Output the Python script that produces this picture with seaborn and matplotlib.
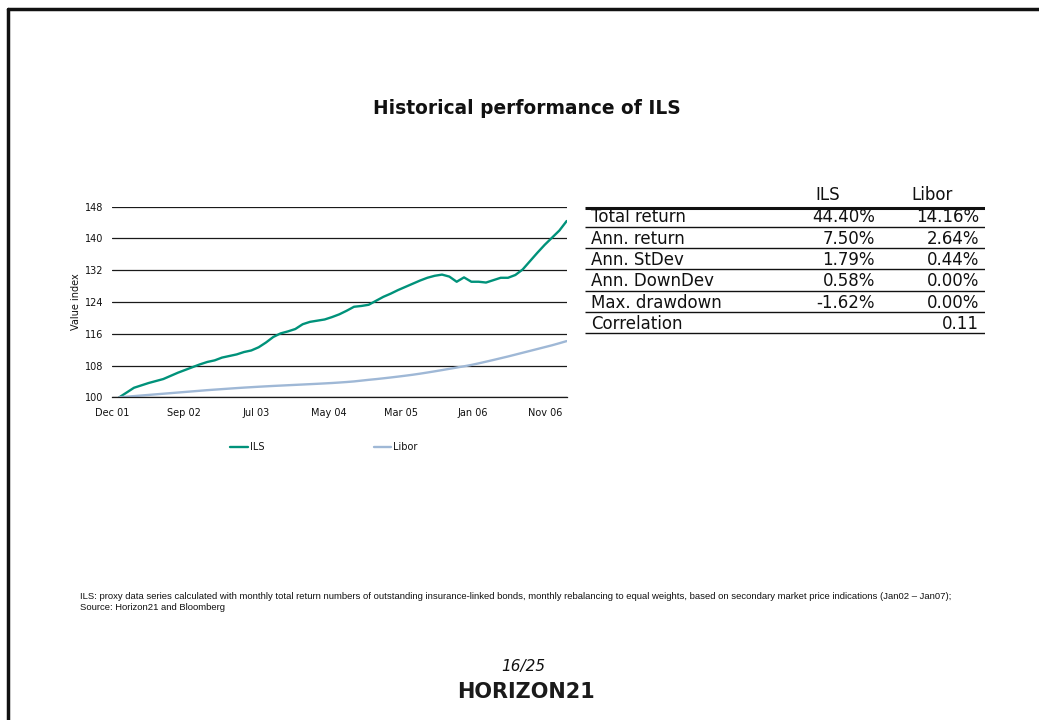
"""
plot.py
Historical performance of ILS vs Libor (value index) with summary stats table.
"""

import matplotlib
matplotlib.use("Agg")
import matplotlib.pyplot as plt
from matplotlib.lines import Line2D
import seaborn as sns
import pandas as pd
import numpy as np

W, H = 1039, 720

# --- data ----------------------------------------------------------------
ils_values = [
    100.0, 101.2, 102.4, 103.0, 103.6, 104.1, 104.6, 105.4, 106.2, 106.9,
    107.6, 108.3, 108.9, 109.3, 110.0, 110.4, 110.8, 111.4, 111.8, 112.6,
    113.8, 115.2, 116.1, 116.6, 117.2, 118.4, 119.0, 119.3, 119.6, 120.2,
    120.9, 121.8, 122.8, 123.0, 123.3, 124.3, 125.3, 126.1, 127.0, 127.8,
    128.6, 129.4, 130.1, 130.6, 130.9, 130.4, 129.1, 130.2, 129.1, 129.1,
    128.9, 129.5, 130.1, 130.1, 130.8, 132.2, 134.3, 136.4, 138.4, 140.2,
    142.0, 144.4,
]
libor_values = [
    100.00, 100.15, 100.30, 100.45, 100.60, 100.75, 100.90, 101.05, 101.20, 101.35,
    101.50, 101.65, 101.80, 101.93, 102.06, 102.19, 102.32, 102.44, 102.55, 102.66,
    102.76, 102.86, 102.95, 103.04, 103.13, 103.22, 103.31, 103.40, 103.50, 103.60,
    103.72, 103.85, 104.00, 104.20, 104.40, 104.58, 104.78, 104.99, 105.21, 105.44,
    105.68, 105.95, 106.24, 106.54, 106.85, 107.17, 107.49, 107.81, 108.15, 108.55,
    108.97, 109.40, 109.84, 110.28, 110.75, 111.22, 111.69, 112.16, 112.63, 113.10,
    113.62, 114.16,
]
series_names = ["ILS", "Libor"]
series_colors = ["#00927a", "#9fb8d6"]
x_tick_labels = ["Dec 01", "Sep 02", "Jul 03", "May 04", "Mar 05", "Jan 06", "Nov 06"]
y_ticks = [100, 108, 116, 124, 132, 140, 148]

table_rows = ["Total return", "Ann. return", "Ann. StDev", "Ann. DownDev",
              "Max. drawdown", "Correlation"]
table_ils = ["44.40%", "7.50%", "1.79%", "0.58%", "-1.62%", ""]
table_libor = ["14.16%", "2.64%", "0.44%", "0.00%", "0.00%", "0.11"]

footnote = ("ILS: proxy data series calculated with monthly total return numbers of "
            "outstanding insurance-linked bonds, monthly rebalancing to equal weights, "
            "based on secondary market price indications (Jan02 \u2013 Jan07);\n"
            "Source: Horizon21 and Bloomberg")


def build_frame():
    n = len(ils_values)
    df = pd.DataFrame({
        "month": list(range(n)) * 2,
        "value": ils_values + libor_values,
        "series": [series_names[0]] * n + [series_names[1]] * n,
    })
    return df


def draw_chart(fig, df):
    left, right, top, bottom = 111.6, 566.7, 206.7, 397.3
    ax = fig.add_axes([left / W, 1 - bottom / H, (right - left) / W, (bottom - top) / H])
    sns.lineplot(data=df, x="month", y="value", hue="series",
                 palette=dict(zip(series_names, series_colors)),
                 linewidth=1.7, ax=ax)

    ax.set_xlim(-1.05, 61)
    ax.set_ylim(100, 148)
    ax.set_yticks(y_ticks)
    ax.set_xticks([-1 + 9.85 * i for i in range(len(x_tick_labels))])
    ax.set_xticklabels(x_tick_labels)
    ax.tick_params(axis="both", length=0, labelsize=7, colors="#111111")
    ax.tick_params(axis="y", pad=6)
    ax.tick_params(axis="x", pad=8)

    ax.yaxis.grid(True, color="#1a1a1a", linewidth=0.9)
    ax.xaxis.grid(False)
    ax.set_axisbelow(True)
    for side in ["top", "left", "right"]:
        ax.spines[side].set_visible(False)
    ax.spines["bottom"].set_color("#1a1a1a")
    ax.spines["bottom"].set_linewidth(0.9)

    ax.set_xlabel("")
    ax.set_ylabel("Value index", fontsize=7, color="#111111", labelpad=3)

    sns.move_legend(ax, loc="center", bbox_to_anchor=(324 / W, 1 - 447 / H),
                    bbox_transform=fig.transFigure, ncol=2, frameon=False,
                    title=None, fontsize=7, handlelength=1.8, handletextpad=0.2,
                    columnspacing=11.3)
    return ax


def draw_table(fig):
    row_h = 21.3
    top = 217.3 - 1.55 * row_h
    height = 8.1 * row_h
    ax_t = fig.add_axes([585 / W, 1 - (top + height) / H, 400 / W, height / H])
    ax_t.set_xlim(585, 985)
    ax_t.set_ylim(6.55, -1.55)
    ax_t.axis("off")

    fs = 12
    ax_t.text(828, -1.05, series_names[0], ha="center", va="center", fontsize=fs)
    ax_t.text(932, -1.05, series_names[1], ha="center", va="center", fontsize=fs)
    ax_t.plot([585, 985], [-0.42, -0.42], color="#111111", linewidth=2.2,
              solid_capstyle="butt")

    for i, (lab, v1, v2) in enumerate(zip(table_rows, table_ils, table_libor)):
        ax_t.text(591, i, lab, ha="left", va="center", fontsize=fs)
        ax_t.text(875, i, v1, ha="right", va="center", fontsize=fs)
        ax_t.text(979, i, v2, ha="right", va="center", fontsize=fs)
        ax_t.plot([585, 985], [i + 0.44, i + 0.44], color="#111111",
                  linewidth=1.0, solid_capstyle="butt")


def main():
    sns.set_style("white")
    plt.rcParams["font.family"] = ["DejaVu Sans"]
    plt.rcParams["text.color"] = "#111111"

    fig = plt.figure(figsize=(W / 100, H / 100), dpi=100)
    fig.patch.set_facecolor("white")

    df = build_frame()
    draw_chart(fig, df)
    draw_table(fig)

    fig.text(527 / W, 1 - 108 / H, "Historical performance of ILS",
             ha="center", va="center", fontsize=13.4, fontweight="bold")

    fig.text(80 / W, 1 - 602 / H, footnote, ha="left", va="center",
             fontsize=6.8, family=["Liberation Sans Narrow", "Liberation Sans"],
             linespacing=1.2)

    fig.text(523 / W, 1 - 667 / H, "16/25", ha="center", va="center",
             fontsize=11, style="italic")
    fig.text(526 / W, 1 - 692 / H, "HORIZON21", ha="center", va="center",
             fontsize=15, fontweight="bold", color="#1a1a1a")

    # slide frame: only top and left edges fall inside the picture
    fig.add_artist(Line2D([7.5 / W, 1], [1 - 8.5 / H, 1 - 8.5 / H],
                          color="#111111", linewidth=2.5, transform=fig.transFigure))
    fig.add_artist(Line2D([7.5 / W, 7.5 / W], [0, 1 - 8.5 / H],
                          color="#111111", linewidth=2.5, transform=fig.transFigure))

    fig.savefig("out.png", dpi=100)
    plt.close(fig)


if __name__ == "__main__":
    main()
